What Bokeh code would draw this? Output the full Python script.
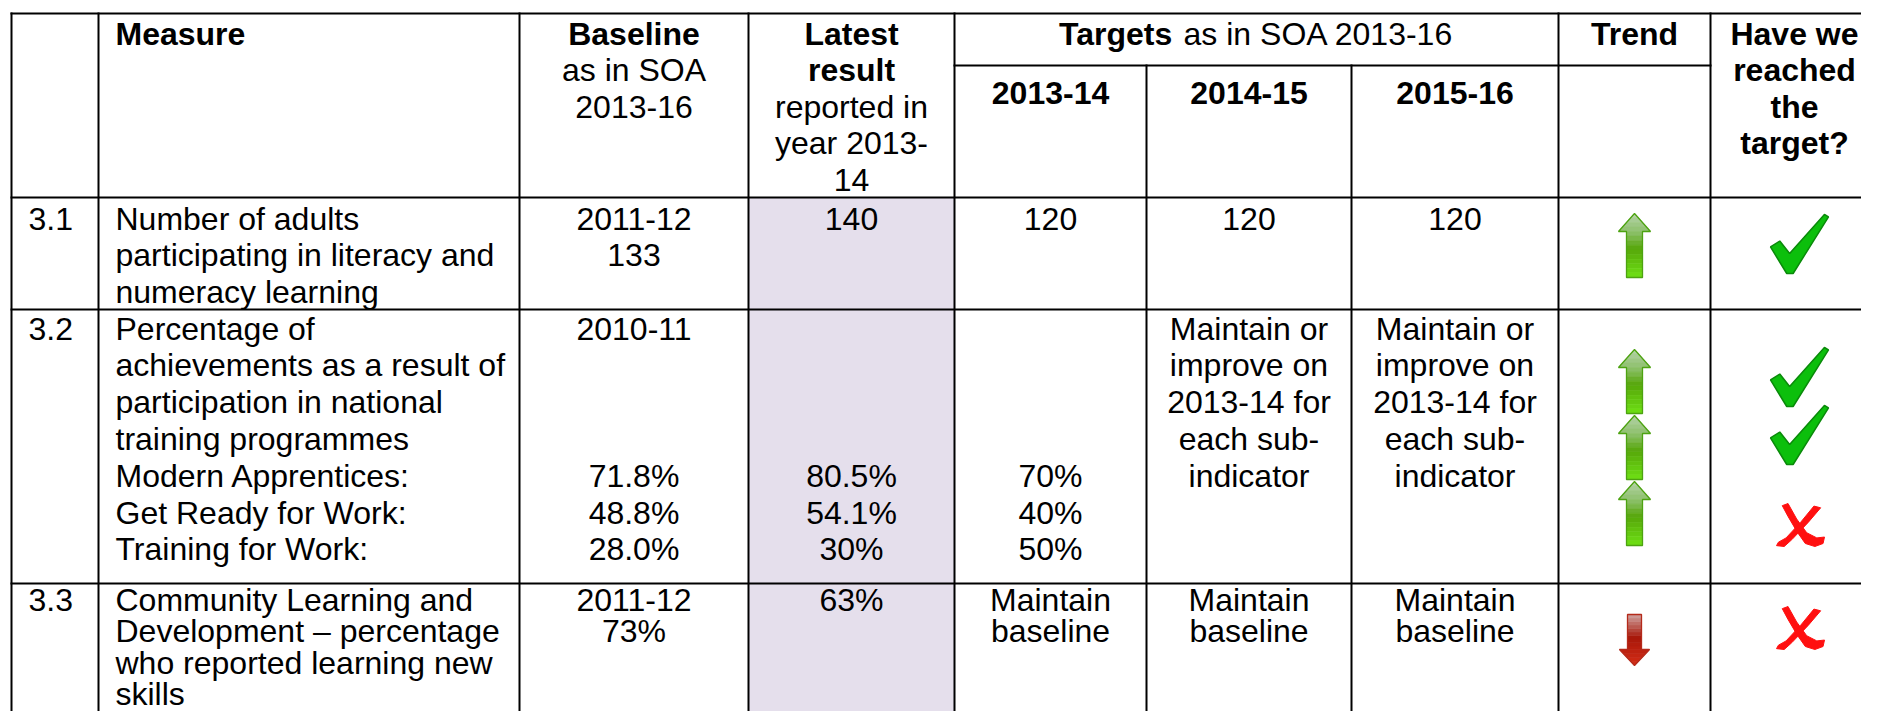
from bokeh.plotting import figure
from bokeh.models import Range1d
from bokeh.embed import file_html
from bokeh.resources import INLINE
from bokeh.core.properties import value

# ---------------- DATA ----------------
row_ids = ["3.1", "3.2", "3.3"]
measures = [
    "Number of adults\nparticipating in literacy and\nnumeracy learning",
    "Percentage of\nachievements as a result of\nparticipation in national\ntraining programmes\nModern Apprentices:\nGet Ready for Work:\nTraining for Work:",
    "Community Learning and\nDevelopment \u2013 percentage\nwho reported learning new\nskills",
]
baseline = ["2011-12\n133", "2010-11\n\n\n\n71.8%\n48.8%\n28.0%", "2011-12\n73%"]
latest = ["140", "\n\n\n\n80.5%\n54.1%\n30%", "63%"]
target_2013_14 = ["120", "\n\n\n\n70%\n40%\n50%", "Maintain\nbaseline"]
target_2014_15 = ["120", "Maintain or\nimprove on\n2013-14 for\neach sub-\nindicator", "Maintain\nbaseline"]
target_2015_16 = ["120", "Maintain or\nimprove on\n2013-14 for\neach sub-\nindicator", "Maintain\nbaseline"]
trend = [["up"], ["up", "up", "up"], ["down"]]
reached = [["yes"], ["yes", "yes", "no"], ["no"]]

hdr_measure = "Measure"
hdr_baseline = [("Baseline", True), ("as in SOA", False), ("2013-16", False)]
hdr_latest = [("Latest", True), ("result", True), ("reported in", False), ("year 2013-", False), ("14", False)]
hdr_targets_bold = "Targets"
hdr_targets_rest = "as in SOA 2013-16"
hdr_years = ["2013-14", "2014-15", "2015-16"]
hdr_trend = "Trend"
hdr_reached = ["Have we", "reached", "the", "target?"]

# ---------------- LAYOUT ----------------
W, H = 1861, 711
col_edges = [11, 98, 519, 748, 954, 1146, 1351, 1558, 1710, 1896]
row_edges = [13, 197, 309, 583, 760]
sub_line_y = 65
pad_x = 17
row_first_off = [20, 21, 19, 16]   # header, 3.1, 3.2, 3.3
row_step = [36.5, 36.5, 36.8, 31.5]
last_col_text_x = 1794            # kept inside the visible canvas
FS = 32
FONT = "Liberation Sans"
shade = "#E5DFEC"

p = figure(width=W, height=H, x_range=Range1d(0, W), y_range=Range1d(H, 0),
           output_backend="svg", toolbar_location=None, min_border=0,
           x_axis_type=None, y_axis_type=None)
p.outline_line_color = None
p.background_fill_color = "white"
p.border_fill_color = "white"

# shading of "Latest result" column
p.quad(left=[col_edges[3]], right=[col_edges[4]], top=[row_edges[1]], bottom=[row_edges[-1]],
       fill_color=shade, line_color=None)

# grid lines
x0s, y0s, x1s, y1s = [], [], [], []
for y in row_edges[:-1]:
    x0s.append(col_edges[0]); x1s.append(col_edges[-1] + 20); y0s.append(y); y1s.append(y)
x0s.append(col_edges[4]); x1s.append(col_edges[8]); y0s.append(sub_line_y); y1s.append(sub_line_y)
for i, x in enumerate(col_edges[:-1]):
    top = sub_line_y if i in (5, 6) else row_edges[0]
    x0s.append(x); x1s.append(x); y0s.append(top); y1s.append(row_edges[-1])
p.segment(x0s, y0s, x1s, y1s, line_color="black", line_width=2, line_cap="square")

# ---------------- TEXT ----------------
texts = {}


def put(x, y, s, align="center", bold=False):
    key = (align, bold)
    d = texts.setdefault(key, {"x": [], "y": [], "t": []})
    d["x"].append(x); d["y"].append(y); d["t"].append(s)


def put_block(ci, y_top, block, align="center", bold=False, off=20, step=36.5):
    left, right = col_edges[ci], col_edges[ci + 1]
    x = left + pad_x if align == "left" else (left + right) / 2
    for k, line in enumerate(block.split("\n")):
        if line:
            put(x, y_top + off + k * step, line, align, bold)


# header
ht = row_edges[0]
o0, s0 = row_first_off[0], row_step[0]
put_block(1, ht, hdr_measure, "left", True, o0, s0)
for k, (s, b) in enumerate(hdr_baseline):
    put((col_edges[2] + col_edges[3]) / 2, ht + o0 + k * s0, s, "center", b)
for k, (s, b) in enumerate(hdr_latest):
    put((col_edges[3] + col_edges[4]) / 2, ht + o0 + k * s0, s, "center", b)

# "Targets as in SOA 2013-16" mixed bold/regular, centred over the three target columns
w_reg = {' ': 278, 'a': 556, 's': 500, 'i': 222, 'n': 556, 'S': 667, 'O': 778, 'A': 667,
         '2': 556, '0': 556, '1': 556, '3': 556, '-': 333, '6': 556}
w_bold = {'T': 611, 'a': 556, 'r': 389, 'g': 611, 'e': 556, 't': 333, 's': 556}
wb = sum(w_bold[c] for c in hdr_targets_bold) * FS / 1000
wsp = w_reg[' '] * FS / 1000
wr = sum(w_reg[c] for c in hdr_targets_rest) * FS / 1000
cx = (col_edges[4] + col_edges[7]) / 2
xs0 = cx - (wb + wsp + wr) / 2
put(xs0, ht + o0, hdr_targets_bold, "left", True)
put(xs0 + wb + wsp, ht + o0, hdr_targets_rest, "left", False)
for j, s in enumerate(hdr_years):
    put_block(4 + j, sub_line_y, s, "center", True, off=27)
put_block(7, ht, hdr_trend, "center", True, o0, s0)
for k, s in enumerate(hdr_reached):
    put(last_col_text_x, ht + o0 + k * s0, s, "center", True)

# body rows
columns = [(0, row_ids, "left"), (1, measures, "left"), (2, baseline, "center"),
           (3, latest, "center"), (4, target_2013_14, "center"),
           (5, target_2014_15, "center"), (6, target_2015_16, "center")]
for r in range(3):
    top = row_edges[r + 1]
    for ci, vals, al in columns:
        put_block(ci, top, vals[r], al, False, row_first_off[r + 1], row_step[r + 1])

for (align, bold), d in texts.items():
    p.text(x=d["x"], y=d["y"], text=d["t"], text_font=value(FONT), text_font_size=f"{FS}px",
           text_font_style="bold" if bold else "normal", text_align=align,
           text_baseline="middle", text_color="black")

# ---------------- ICONS ----------------


def hex2rgb(h):
    h = h.lstrip("#")
    return tuple(int(h[i:i + 2], 16) for i in (0, 2, 4))


def grad(stops, f):
    for (f0, c0), (f1, c1) in zip(stops, stops[1:]):
        if f <= f1:
            t = 0 if f1 == f0 else (f - f0) / (f1 - f0)
            a, b = hex2rgb(c0), hex2rgb(c1)
            return "#%02x%02x%02x" % tuple(int(round(a[i] + (b[i] - a[i]) * t)) for i in range(3))
    return stops[-1][1]


up_stops = [(0, "#b6d2aa"), (0.3, "#8cc06a"), (0.55, "#56a60a"), (1.0, "#6ee014")]
down_stops = [(0, "#cfa3a0"), (0.45, "#a8180a"), (1.0, "#d42c16")]

band_xs, band_ys, band_cols = [], [], []
out_xs, out_ys, out_cols = [], [], []


def arrow(cx, y_start, L, hw, hh, sw, up, stops, edge):
    tip = y_start if up else y_start + L
    sgn = 1 if up else -1
    edges = [hh * i / 4 for i in range(5)] + [hh + (L - hh) * i / 10 for i in range(1, 11)]
    for d0, d1 in zip(edges, edges[1:]):
        head = d1 <= hh + 1e-9
        w0 = hw * d0 / hh if head else sw
        w1 = hw * d1 / hh if head else sw
        ya, yb = tip + sgn * d0, tip + sgn * d1
        band_xs.append([cx - w0 / 2, cx + w0 / 2, cx + w1 / 2, cx - w1 / 2])
        band_ys.append([ya, ya, yb, yb])
        dm = (d0 + d1) / 2
        f = dm / L if up else 1 - dm / L
        band_cols.append(grad(stops, f))
    yh = tip + sgn * hh
    ye = tip + sgn * L
    out_xs.append([cx, cx + hw / 2, cx + sw / 2, cx + sw / 2, cx - sw / 2, cx - sw / 2, cx - hw / 2])
    out_ys.append([tip, yh, yh, ye, ye, yh, yh])
    out_cols.append(edge)


trend_tops = [213, 349, 614]
up_len, down_len = 64, 51
arrow_gap = 66
cx_trend = (col_edges[7] + col_edges[8]) / 2
for r, items in enumerate(trend):
    y = trend_tops[r]
    for it in items:
        if it == "up":
            arrow(cx_trend, y, up_len, 32, 18, 16, True, up_stops, "#4da311")
            y += arrow_gap
        else:
            arrow(cx_trend, y, down_len, 30, 16, 14, False, down_stops, "#b52a1a")
            y += down_len + 2

p.patches(band_xs, band_ys, fill_color=band_cols, line_color=band_cols, line_width=0.6)
p.patches(out_xs, out_ys, fill_color=None, line_color=out_cols, line_width=1.3)

check_shape = [(0.0, 0.55), (0.16, 0.45), (0.33, 0.66), (0.93, 0.0), (1.0, 0.04),
               (0.39, 1.0), (0.28, 1.0)]
cross_a = [(0.12, 0.05), (0.24, 0.0), (0.42, 0.36), (0.63, 0.68), (0.84, 0.80), (1.0, 0.78),
           (0.97, 0.93), (0.80, 1.0), (0.60, 0.93), (0.43, 0.66), (0.24, 0.30)]
cross_b = [(0.78, 0.06), (0.92, 0.10), (0.66, 0.44), (0.32, 0.84), (0.16, 1.0), (0.0, 0.98),
           (0.04, 0.90), (0.20, 0.80), (0.50, 0.44)]

reached_tops = [[214], [347, 405, 503], [606]]
cx_reach = (col_edges[8] + col_edges[9]) / 2
chk_xs, chk_ys, crs_xs, crs_ys = [], [], [], []
for r, items in enumerate(reached):
    for it, y in zip(items, reached_tops[r]):
        if it == "yes":
            w, h = 58, 59
            x0 = cx_reach - 33
            chk_xs.append([x0 + a * w for a, b in check_shape])
            chk_ys.append([y + b * h for a, b in check_shape])
        else:
            w, h = 48, 43
            x0 = cx_reach - 27
            for shp in (cross_a, cross_b):
                crs_xs.append([x0 + a * w for a, b in shp])
                crs_ys.append([y + b * h for a, b in shp])

p.patches(chk_xs, chk_ys, fill_color="#0cbf0c", line_color="#0a8a0a", line_width=1.5)
p.patches(crs_xs, crs_ys, fill_color="#ff1010", line_color="#ff1010", line_width=1)

open("out.html", "w").write(file_html(p, INLINE))
